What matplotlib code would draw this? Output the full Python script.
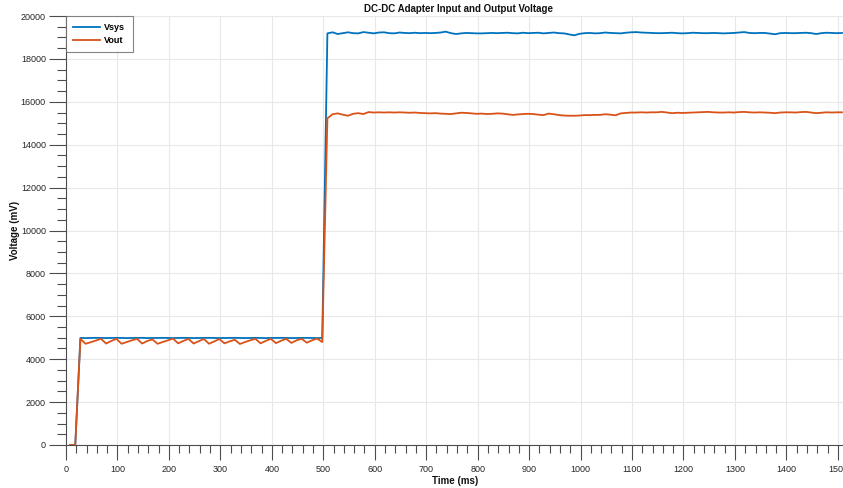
import numpy as np
import matplotlib
matplotlib.use("Agg")
import matplotlib.pyplot as plt
from matplotlib.ticker import MultipleLocator

plt.rcParams['font.family'] = ['Liberation Sans', 'DejaVu Sans']

# Sample times (ms): one reading every 10 ms
time_ms = np.arange(8, 1509, 10)

# Adapter input voltage (mV)
vsys_off = [0, 0]
vsys_low = [
    4990, 4985, 4990, 4995, 4990, 4985, 4990, 4995, 4990, 4985,
    4990, 4990, 4995, 4985, 4990, 4990, 4995, 4990, 4985, 4990,
    4995, 4990, 4985, 4990, 4990, 4995, 4990, 4985, 4990, 4990,
    4995, 4990, 4985, 4990, 4995, 4990, 4985, 4990, 4990, 4995,
    4990, 4985, 4990, 4990, 4995, 4990, 4985, 4990,
]
vsys_high = [
    19190, 19240, 19160, 19200, 19240, 19200, 19190, 19250, 19220, 19190,
    19230, 19240, 19200, 19190, 19230, 19210, 19200, 19220, 19200, 19210,
    19200, 19210, 19230, 19270, 19200, 19160, 19190, 19210, 19200, 19190,
    19190, 19200, 19210, 19200, 19210, 19220, 19200, 19190, 19220, 19200,
    19210, 19220, 19190, 19210, 19230, 19200, 19190, 19140, 19100, 19170,
    19200, 19210, 19190, 19200, 19230, 19210, 19200, 19190, 19220, 19240,
    19250, 19230, 19220, 19210, 19200, 19200, 19210, 19220, 19200, 19190,
    19200, 19220, 19210, 19200, 19200, 19210, 19200, 19190, 19200, 19210,
    19230, 19250, 19210, 19200, 19210, 19210, 19180, 19150, 19200, 19210,
    19200, 19200, 19210, 19220, 19200, 19160, 19200, 19220, 19210, 19200,
    19210,
]

# Converter output voltage (mV)
vout_off = [0, 0]
vout_low = [
    4950, 4720, 4790, 4870, 4950, 4730, 4850, 4950, 4720, 4800,
    4880, 4950, 4730, 4850, 4920, 4720, 4800, 4880, 4960, 4740,
    4850, 4950, 4730, 4840, 4940, 4720, 4830, 4940, 4740, 4830,
    4910, 4710, 4800, 4880, 4950, 4740, 4850, 4950, 4750, 4860,
    4950, 4760, 4880, 4950, 4770, 4880, 4960, 4800,
]
vout_high = [
    15230, 15420, 15460, 15400, 15350, 15440, 15470, 15430, 15520, 15500,
    15510, 15500, 15510, 15500, 15510, 15500, 15490, 15500, 15480, 15470,
    15460, 15470, 15450, 15440, 15430, 15460, 15490, 15480, 15460, 15440,
    15450, 15430, 15440, 15460, 15450, 15420, 15390, 15410, 15430, 15440,
    15430, 15400, 15380, 15450, 15420, 15380, 15360, 15350, 15350, 15360,
    15380, 15380, 15390, 15390, 15420, 15400, 15370, 15460, 15480, 15500,
    15500, 15510, 15500, 15510, 15510, 15530, 15500, 15470, 15490, 15480,
    15490, 15500, 15510, 15520, 15530, 15510, 15500, 15500, 15510, 15500,
    15520, 15530, 15510, 15500, 15510, 15500, 15490, 15470, 15500, 15510,
    15510, 15500, 15520, 15530, 15500, 15470, 15490, 15510, 15500, 15510,
    15510,
]

vsys = np.array(vsys_off + vsys_low + vsys_high, dtype=float)
vout = np.array(vout_off + vout_low + vout_high, dtype=float)
assert len(vsys) == len(time_ms) == len(vout)

BLUE = '#0072BD'
ORANGE = '#D95319'
AXIS_GREY = '#4d4d4d'
TEXT_GREY = '#262626'

fig = plt.figure(figsize=(8.43, 4.88), dpi=100)
W, H = 843, 488
ax = fig.add_axes([66 / W, 43 / H, 777 / W, 429 / H])

ax.plot(time_ms, vsys, color=BLUE, lw=1.3, label='Vsys', zorder=3)
ax.plot(time_ms, vout, color=ORANGE, lw=1.3, label='Vout', zorder=4)

ax.set_xlim(0, 1510)
ax.set_ylim(0, 20000)
ax.xaxis.set_major_locator(MultipleLocator(100))
ax.xaxis.set_minor_locator(MultipleLocator(20))
ax.yaxis.set_major_locator(MultipleLocator(2000))
ax.yaxis.set_minor_locator(MultipleLocator(500))

ax.grid(True, which='major', color='#e8e8e8', lw=0.8, zorder=0)
ax.set_axisbelow(True)

for side in ('top', 'right'):
    ax.spines[side].set_visible(False)
for side in ('left', 'bottom'):
    ax.spines[side].set_color(AXIS_GREY)
    ax.spines[side].set_linewidth(0.8)

ax.tick_params(axis='y', which='major', direction='out', length=12, width=0.8,
               color=AXIS_GREY, labelsize=6.5, labelcolor=TEXT_GREY, pad=2.5)
ax.tick_params(axis='y', which='minor', direction='out', length=6.3, width=0.8,
               color=AXIS_GREY)
ax.tick_params(axis='x', which='major', direction='out', length=10.8, width=0.8,
               color=AXIS_GREY, labelsize=6.5, labelcolor=TEXT_GREY, pad=3.5)
ax.tick_params(axis='x', which='minor', direction='out', length=5.5, width=0.8,
               color=AXIS_GREY)

fig.text(458 / W, 1 - 9 / H, 'DC-DC Adapter Input and Output Voltage',
         ha='center', va='center', fontsize=7, fontweight='bold', color='#111111')
fig.text(455 / W, 1 - 481 / H, 'Time (ms)', ha='center', va='center',
         fontsize=7, fontweight='bold', color='#111111')
fig.text(15 / W, 1 - 230 / H, 'Voltage (mV)', ha='center', va='center',
         rotation=90, fontsize=7, fontweight='bold', color='#111111')

leg = ax.legend(loc='upper left', bbox_to_anchor=(0, 1), borderaxespad=0,
                frameon=True, fancybox=False,
                prop={'weight': 'bold', 'size': 6.5},
                handlelength=3.0, handletextpad=0.45, labelspacing=0.4,
                borderpad=0.8)
leg.get_frame().set_edgecolor('#666666')
leg.get_frame().set_linewidth(0.8)
for line in leg.get_lines():
    line.set_linewidth(1.3)

fig.savefig('out.png', dpi=100)
